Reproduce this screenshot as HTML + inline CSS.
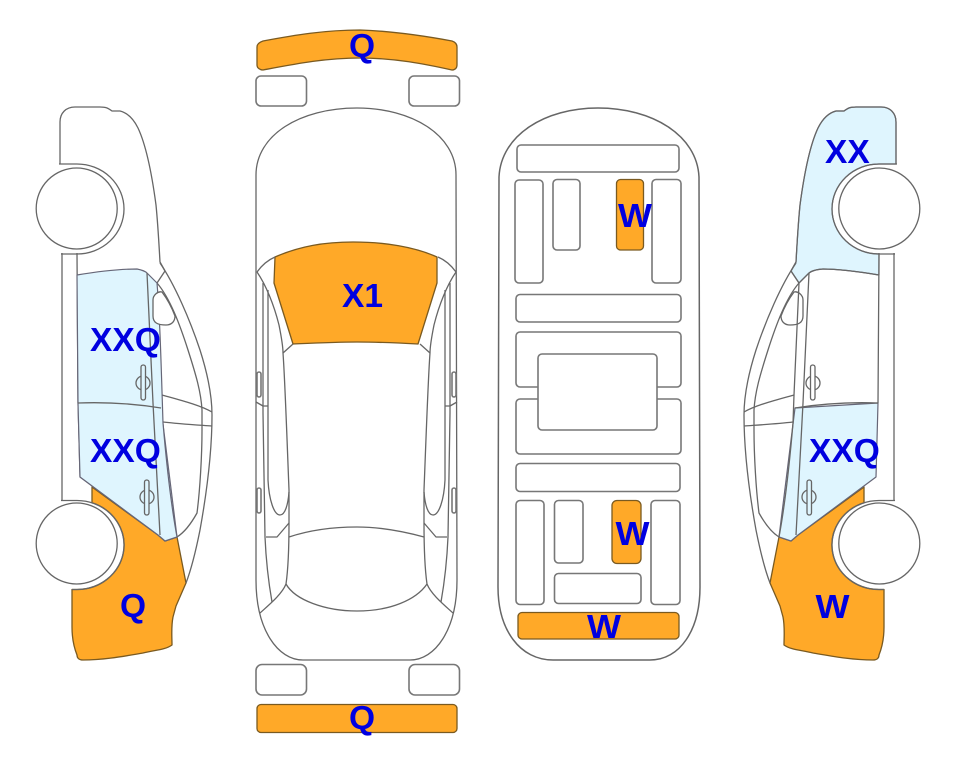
<!DOCTYPE html>
<html><head><meta charset="utf-8"><style>
html,body{margin:0;padding:0;background:#fff}
svg{display:block}
text{font-family:"Liberation Sans",sans-serif;font-weight:bold;font-size:33.5px;fill:#0000e0}
.l{fill:none;stroke:#666;stroke-width:1.3;stroke-linejoin:round}
.r{fill:#fff;stroke:#777;stroke-width:1.6}
.o{fill:#ffa928;stroke:#7a5a20;stroke-width:1.3;stroke-linejoin:round}
.b{fill:#dff5fe;stroke:#667;stroke-width:1.2;stroke-linejoin:round}
</style></head><body>
<svg width="963" height="768" viewBox="0 0 963 768" xmlns="http://www.w3.org/2000/svg">
<defs>
<g id="side">
  <path class="o" d="M92,487 L158,535 L165,541 L177,537 L186,583 L176,606 L173,617 C171,627 172,637 172,645 C165,650 155,650 143,653 C125,656 105,660 83,660 C79,660 77,658 77,655 C73,645 72,635 72,627 L72,589.500 L77,589.500 A47,44.500 0 0 0 92,502.800 Z"/>
  <path class="b" d="M161,408 L78,403 L80,477 L158,535 L165,541 L177,537 Z"/>
  <path class="l" d="M60,164 L60,122 C60,113 66,107 75,107 L100,107 C106,107 108,108 112,111 L120,111 C128,113 134,120 138,128 C146,145 152,175 156,205 C158,225 159,245 160,262 L165,271"/>
  <path class="l" d="M160,263 C175,285 190,320 200,350 C208,375 212,395 212,415 C212,445 209,480 200,530 C195,555 191,570 186,583"/>
  <path class="l" d="M157,283 C170,298 180,325 188,350 C196,375 201,392 202,410 L202,430 C202,455 200,490 197,513 C192,522 185,532 177,537"/>
  <path class="l" d="M165,271 L157,283"/>
  <path class="l" d="M162,395 C180,400 200,405 212,412 M163,422 C180,424 198,425 212,426"/>
  <path class="l" d="M62,253 L62,500 M77,253 L78,403"/>
  <path class="l" d="M59,164 L77,164 A47,45 0 0 1 77,254 L61,254"/>
  <path class="l" d="M61,500.500 L77,500.500 A47,44.500 0 0 1 77,589.500 L72,589.500"/>
  <circle class="l" style="fill:#fff" cx="76.700" cy="208.500" r="40.500"/>
  <circle class="l" style="fill:#fff" cx="76.700" cy="543.500" r="40.500"/>
</g>
<g id="mirror">
  <path class="l" style="fill:#fff" d="M153,300 C153,295 158,291 162,292 C168,300 172,308 175,316 C175,322 171,325 166,325 C158,325 153,323 153,316 Z"/>
</g>
<g id="topH">
  <path class="l" d="M257,272 C262,265 268,260 275,257"/>
  <path class="l" d="M257,272 C266,285 274,305 279,325 C281,335 283,345 283,353 C285,380 287,440 289,490 L289,523 C289,545 288,570 286,584"/>
  <path class="l" d="M283,353 L293,344"/>
  <path class="l" d="M263,283 L263,413 L265,537 C266,560 269,585 272,602"/>
  <path class="l" d="M268,290 L268,480 C269,500 274,515 280,515 C285,515 288,505 289,492"/>
  <path class="l" d="M266,537 L277,537 L289,523"/>
  <path class="l" d="M286,584 C282,594 270,604 260,613"/>
  <path class="l" d="M256,402 L263,406 L268,406"/>
  <rect class="r" x="257" y="372" width="4" height="25" rx="2"/>
  <rect class="r" x="257" y="488" width="4" height="25" rx="2"/>
</g>
</defs>
<rect width="963" height="768" fill="#fff"/>

<!-- left car -->
<use href="#side"/>
<path class="b" d="M77,275 C95,272 115,269 137,269 C142,270 145,271 147,273 L157,283 C160,320 161,360 163,423 C167,470 172,510 177,537 L165,541 L158,535 L80,477 L78,403 Z"/>
<use href="#mirror"/>
<path class="l" d="M147,273 L153,403 L160,535"/>
<path class="l" d="M78,403 C105,402 130,403 161,408"/>
<circle class="l" cx="143" cy="383" r="7"/><rect class="l" x="141" y="365" width="4.500" height="35" rx="2.200" style="fill:#dff5fe"/>
<circle class="l" cx="147" cy="497" r="7"/><rect class="l" x="144.500" y="480" width="4.500" height="35" rx="2.200" style="fill:#dff5fe"/>

<!-- right car -->
<g transform="matrix(-1 0 0 1 956 0)">
  <path class="b" d="M60,164 L60,122 C60,113 66,107 75,107 L100,107 C106,107 108,108 112,111 L120,111 C128,113 134,120 138,128 C146,145 152,175 156,205 C158,225 159,245 160,262 L165,271 L157,283 L147,273 C142,270 138,269 133,269 C115,269 95,272 77,275 L77,254 A47,45 0 0 0 77,164 Z"/>
  <use href="#side"/>
  <use href="#mirror"/>
  <path class="l" d="M77,275 C95,272 115,269 133,269 C142,270 145,271 147,273 L157,283 L162,395 L163,423 C167,470 172,510 177,537"/>
  <path class="l" d="M147,273 L153,403 L160,535"/>
  <path class="l" d="M78,403 C105,402 130,403 161,408"/>
  <circle class="l" cx="143" cy="383" r="7"/><rect class="l" x="141" y="365" width="4.500" height="35" rx="2.200" style="fill:#fff"/>
  <circle class="l" cx="147" cy="497" r="7"/><rect class="l" x="144.500" y="480" width="4.500" height="35" rx="2.200" style="fill:#dff5fe"/>
</g>

<!-- top view -->
<path class="o" d="M257,47 C257,44 260,42 263,41 C295,35 325,30 360,30 C390,31 425,36 452,41 C455,42 457,44 457,47 L457,65 C457,68 455,70 452,70 C425,64 395,58 360,58 C325,58 295,64 263,70 C260,70 257,68 257,65 Z"/>
<rect class="r" x="256" y="76" width="50.500" height="30" rx="5"/>
<rect class="r" x="409" y="76" width="50.500" height="30" rx="5"/>
<path class="l" d="M256,175 C256,135 300,108 357,108 C412,108 456,135 456,175 L457,580 C457,630 435,660 410,660 L303,660 C278,660 256,630 256,580 Z"/>
<path class="o" d="M275,257 C300,246 325,242 353,242 C385,242 415,247 437,257 L437,283 L418,344 C400,343 378,342 357,342 C335,342 315,343 293,344 L274,283 Z"/>
<use href="#topH"/>
<use href="#topH" transform="matrix(-1 0 0 1 713 0)"/>
<path class="l" d="M289,537 C310,530 332,527 357,527 C380,527 402,531 424,537"/>
<path class="l" d="M286,584 C295,600 325,611 357,611 C390,611 416,600 427,584"/>
<rect class="r" x="256" y="664.500" width="50.500" height="30.500" rx="6"/>
<rect class="r" x="409" y="664.500" width="50.500" height="30.500" rx="6"/>
<rect class="o" x="257" y="704.500" width="200" height="28" rx="4"/>

<!-- bottom view -->
<path class="l" d="M499,177 C501,135 545,108 598,108 C652,108 697,135 699,177 L700,587 C700,630 680,660 650,660 L553,660 C520,660 498,630 498,587 Z" style="stroke-width:1.5"/>
<rect class="r" x="517" y="145" width="162" height="27" rx="4"/>
<rect class="r" x="515" y="180" width="28" height="103" rx="4"/>
<rect class="r" x="553" y="179.500" width="27" height="70.500" rx="4"/>
<rect class="o" x="616.500" y="179.500" width="27" height="70.500" rx="4"/>
<rect class="r" x="652" y="179.500" width="29" height="103.500" rx="4"/>
<rect class="r" x="516" y="294.500" width="165" height="27.500" rx="4"/>
<rect class="r" x="516" y="332" width="165" height="55" rx="4"/>
<rect class="r" x="516" y="399" width="165" height="55" rx="4"/>
<rect class="r" x="538" y="354" width="119" height="76" rx="4"/>
<rect class="r" x="516" y="463.500" width="164" height="28" rx="4"/>
<rect class="r" x="516" y="500.500" width="28" height="104" rx="4"/>
<rect class="r" x="554.500" y="500.500" width="28.500" height="62.500" rx="4"/>
<rect class="o" x="612" y="500.500" width="29" height="63" rx="5"/>
<rect class="r" x="651" y="500.500" width="29" height="104" rx="4"/>
<rect class="r" x="554.500" y="573.500" width="86.500" height="30" rx="4"/>
<rect class="o" x="518" y="612.500" width="161" height="26.500" rx="4"/>

<!-- labels -->
<text x="90" y="351">XXQ</text>
<text x="90" y="462">XXQ</text>
<text x="120" y="617">Q</text>
<text x="349" y="57">Q</text>
<text x="342" y="307">X1</text>
<text x="349" y="729">Q</text>
<text x="618" y="227" textLength="34" lengthAdjust="spacingAndGlyphs">W</text>
<text x="615.500" y="545" textLength="34" lengthAdjust="spacingAndGlyphs">W</text>
<text x="587" y="638" textLength="34" lengthAdjust="spacingAndGlyphs">W</text>
<text x="825" y="163">XX</text>
<text x="809" y="462">XXQ</text>
<text x="815.500" y="618" textLength="34" lengthAdjust="spacingAndGlyphs">W</text>
</svg>
</body></html>
